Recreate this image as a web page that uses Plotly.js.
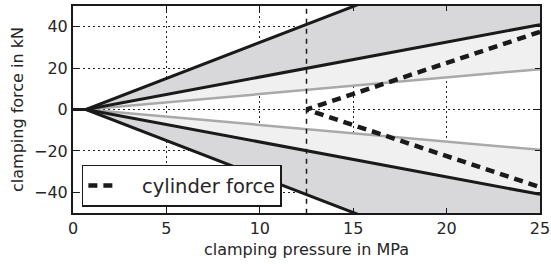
<!DOCTYPE html>
<html>
<head>
<meta charset="utf-8">
<script src="https://cdn.plot.ly/plotly-3.0.1.min.js"></script>
<style>html,body{margin:0;padding:0;background:#fff;}#chart{width:551px;height:264px;}</style>
</head>
<body>
<div id="chart"></div>
<script>
// Data
const pressure   = [0, 0.7, 25];      // clamping pressure in MPa
const outerForce = [0, 0, 84.6];      // outer bound (kN)
const innerForce = [0, 0, 41];        // inner bound (kN)
const grayForce  = [0, 0, 19.5];      // inner gray line (kN)
const cylPressure = [12.5, 25];       // cylinder force start/end pressure
const cylForce    = [0, 37.5];        // cylinder force (kN)
const markPressure = 12.5;            // vertical dashed marker
const xTicks = [0, 5, 10, 15, 20, 25];
const yTicks = [-40, -20, 0, 20, 40];

const neg = a => a.map(v => -v);
const rev = a => a.slice().reverse();

function band(upper, lower, color) {
  return {
    x: pressure.concat(rev(pressure)),
    y: upper.concat(rev(lower)),
    mode: 'none', fill: 'toself', fillcolor: color,
    showlegend: false, hoverinfo: 'skip', type: 'scatter'
  };
}
const dark = '#d8d8da', light = '#f1f0f0';
const traces = [
  band(outerForce, innerForce, dark),
  band(neg(innerForce), neg(outerForce), dark),
  band(innerForce, grayForce, light),
  band(neg(grayForce), neg(innerForce), light),
  {x: pressure, y: grayForce, mode: 'lines', line: {color: '#a9a9a9', width: 2.5}, showlegend: false},
  {x: pressure, y: neg(grayForce), mode: 'lines', line: {color: '#a9a9a9', width: 2.5}, showlegend: false},
  {x: pressure, y: outerForce, mode: 'lines', line: {color: '#1a1a1a', width: 3}, showlegend: false},
  {x: pressure, y: neg(outerForce), mode: 'lines', line: {color: '#1a1a1a', width: 3}, showlegend: false},
  {x: pressure, y: innerForce, mode: 'lines', line: {color: '#1a1a1a', width: 3}, showlegend: false},
  {x: pressure, y: neg(innerForce), mode: 'lines', line: {color: '#1a1a1a', width: 3}, showlegend: false},
  {x: [markPressure, markPressure], y: [-60, 60], mode: 'lines', line: {color: '#1a1a1a', width: 1.5, dash: '5px,5px'}, showlegend: false},
  {x: rev(cylPressure).concat(cylPressure), y: rev(cylForce).concat(neg(cylForce)),
   mode: 'lines', name: '\u00a0\u00a0\u00a0cylinder force', line: {color: '#1a1a1a', width: 4.5, dash: '9px,6px'}, showlegend: true}
];

const font = {family: 'DejaVu Sans, sans-serif', size: 16, color: '#262626'};
const axisCommon = {
  showline: true, linecolor: '#1a1a1a', linewidth: 2, mirror: 'ticks',
  ticks: 'inside', ticklen: 5, tickwidth: 1, tickcolor: '#1a1a1a',
  showgrid: true, gridcolor: '#222', gridwidth: 1, griddash: '1.5px,3.5px',
  zeroline: false, tickfont: font
};
const layout = {
  width: 551, height: 264,
  margin: {l: 73, r: 11, t: 6, b: 51},
  paper_bgcolor: '#fff', plot_bgcolor: '#fff',
  font: font,
  xaxis: Object.assign({}, axisCommon, {
    range: [0, 25], tickvals: xTicks, ticktext: xTicks.map(String),
    title: {text: 'clamping pressure in MPa', font: font, standoff: 7}
  }),
  yaxis: Object.assign({}, axisCommon, {
    range: [-50, 50], tickvals: yTicks, ticktext: yTicks.map(v => v < 0 ? '\u2212' + Math.abs(v) : String(v)),
    title: {text: 'clamping force in kN', font: font, standoff: 6}
  }),
  legend: {
    x: 0.019, y: 0.03, xanchor: 'left', yanchor: 'bottom',
    bgcolor: '#fff', bordercolor: '#1a1a1a', borderwidth: 1.5,
    tracegroupgap: 0,
    font: {family: 'DejaVu Sans, sans-serif', size: 19.5, color: '#262626'}
  },
  showlegend: true
};
Plotly.newPlot('chart', traces, layout, {displayModeBar: false, staticPlot: true});
</script>
</body>
</html>
